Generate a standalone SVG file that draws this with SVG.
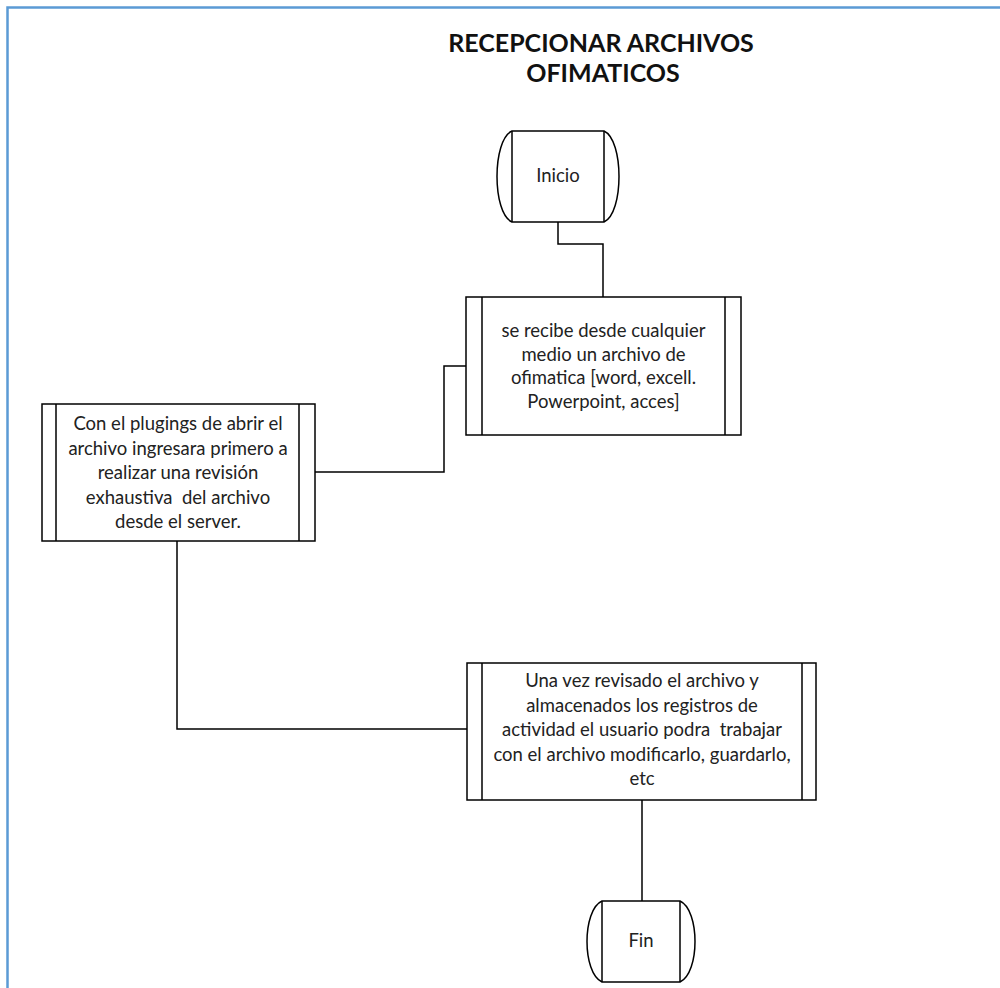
<svg xmlns="http://www.w3.org/2000/svg" width="1000" height="988" viewBox="0 0 1000 988">
  <style>
    .frame { fill: none; stroke: #5b9bd5; stroke-width: 2.5; }
    .shape { fill: #ffffff; stroke: #000000; stroke-width: 1.5; }
    .bar { fill: none; stroke: #000000; stroke-width: 1.5; }
    .wire { fill: none; stroke: #000000; stroke-width: 1.5; }
    .title { font-family: Lato, "Liberation Sans", sans-serif; font-weight: bold; font-size: 25px; fill: #111111; text-anchor: middle; }
    .label { font-family: Lato, "Liberation Sans", sans-serif; font-size: 18.5px; fill: #222222; text-anchor: middle; white-space: pre; }
  </style>

  <rect width="1000" height="988" fill="#ffffff"/>
  <!-- page frame -->
  <path class="frame" d="M7.5,988 V7.5 H1000"/>

  <g id="title">
    <text class="title" x="601" y="52">RECEPCIONAR ARCHIVOS</text>
    <text class="title" x="603" y="82">OFIMATICOS</text>
  </g>

  <!-- connectors -->
  <g id="connectors">
    <path class="wire" d="M558,222 V244 H603 V297"/>
    <path class="wire" d="M466,366 H444 V472 H315"/>
    <path class="wire" d="M177,541 V729 H467"/>
    <path class="wire" d="M642,800 V901"/>
  </g>

  <g id="inicio">
    <path class="shape" d="M512,131 H604 C624,140 624,213 604,222 H512 C492,213 492,140 512,131 Z"/>
    <path class="bar" d="M512,131 V222 M604,131 V222"/>
    <text class="label" x="558" y="182">Inicio</text>
  </g>

  <g id="recibir">
    <rect class="shape" x="466" y="297" width="275" height="138"/>
    <path class="bar" d="M482,297 V435 M725,297 V435"/>
    <text class="label" x="603.5" y="337">se recibe desde cualquier</text>
    <text class="label" x="603.5" y="360.5">medio un archivo de</text>
    <text class="label" x="603.5" y="384">ofimatica [word, excell.</text>
    <text class="label" x="603.5" y="407.5">Powerpoint, acces]</text>
  </g>

  <g id="revision">
    <rect class="shape" x="42" y="404" width="273" height="137"/>
    <path class="bar" d="M56,404 V541 M299,404 V541"/>
    <text class="label" x="178" y="430">Con el plugings de abrir el</text>
    <text class="label" x="178" y="454.5">archivo ingresara primero a</text>
    <text class="label" x="178" y="479">realizar una revisión</text>
    <text class="label" x="178" y="503.5">exhaustiva  del archivo</text>
    <text class="label" x="178" y="528">desde el server.</text>
  </g>

  <g id="trabajar">
    <rect class="shape" x="467" y="663" width="349" height="137"/>
    <path class="bar" d="M482,663 V800 M802,663 V800"/>
    <text class="label" x="642" y="687">Una vez revisado el archivo y</text>
    <text class="label" x="642" y="711.5">almacenados los registros de</text>
    <text class="label" x="642" y="736">actividad el usuario podra  trabajar</text>
    <text class="label" x="642" y="760.5">con el archivo modificarlo, guardarlo,</text>
    <text class="label" x="642" y="785">etc</text>
  </g>

  <g id="fin">
    <path class="shape" d="M602,901 H680 C700,910 700,973 680,982 H602 C582,973 582,910 602,901 Z"/>
    <path class="bar" d="M602,901 V982 M680,901 V982"/>
    <text class="label" x="641" y="947">Fin</text>
  </g>
</svg>
